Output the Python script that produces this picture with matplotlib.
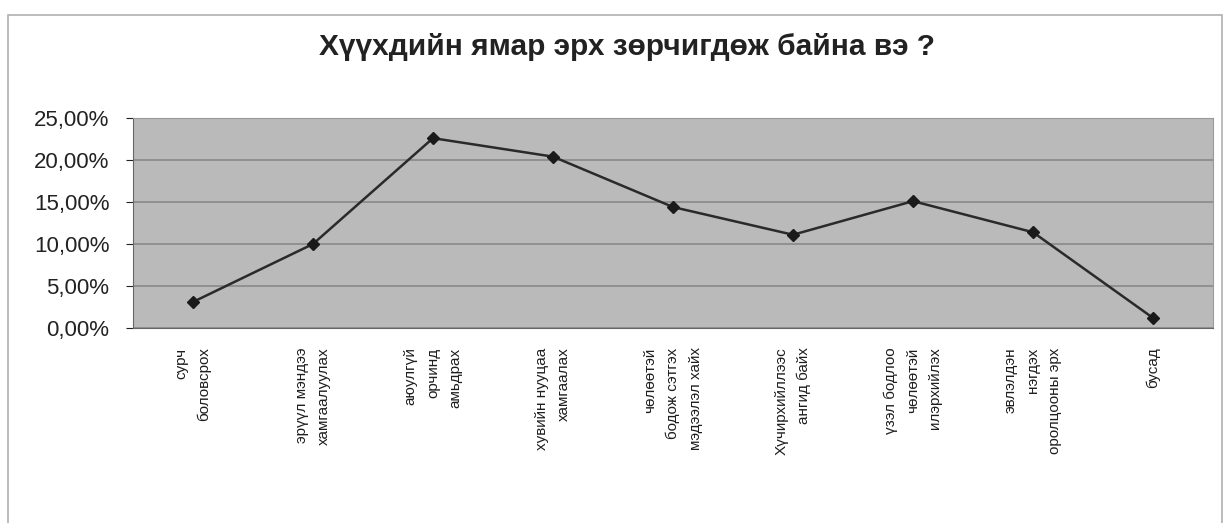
import matplotlib.pyplot as plt
from matplotlib.ticker import FuncFormatter
from matplotlib.patches import Rectangle

plt.rcParams['font.family'] = ['Liberation Sans', 'DejaVu Sans']

title = 'Хүүхдийн ямар эрх зөрчигдөж байна вэ ?'
categories = [
    'сурч\nболовсрох',
    'эрүүл мэндээ\nхамгаалуулах',
    'аюулгүй\nорчинд\nамьдрах',
    'хувийн нууцаа\nхамгаалах',
    'чөлөөтэй\nбодож сэтгэх\nмэдээлэл хайх',
    'Хүчирхийллээс\nангид байх',
    'үзэл бодлоо\nчөлөөтэй\nилэрхийлэх',
    'эвлэлдэн\nнэгдэх\nоролцооны эрх',
    'бусад',
]
values = [0.031, 0.10, 0.226, 0.204, 0.144, 0.111, 0.151, 0.114, 0.012]
yticks = [0, 0.05, 0.10, 0.15, 0.20, 0.25]


def pct(v, pos):
    return ('%.2f%%' % (v * 100)).replace('.', ',')


fig = plt.figure(figsize=(12.31, 5.23), dpi=100)
fig.patches.append(Rectangle((8 / 1231, -0.01), 1214 / 1231, 1 - 15 / 523 + 0.01,
                             transform=fig.transFigure, fill=False,
                             edgecolor='#b0b0b0', linewidth=1.2))

ax = fig.add_axes([133 / 1231, 1 - 328 / 523, 1080 / 1231, 210 / 523])
ax.set_facecolor('#bababa')

x = list(range(len(categories)))
ax.plot(x, values, color='#2a2a2a', linewidth=1.8, marker='D', markersize=6.5,
        markerfacecolor='#1a1a1a', markeredgecolor='#1a1a1a', zorder=3)

ax.set_xlim(-0.5, len(categories) - 0.5)
ax.set_ylim(0, 0.25)
ax.set_yticks(yticks)
ax.yaxis.set_major_formatter(FuncFormatter(pct))
ax.grid(axis='y', color='#858585', linewidth=1.1)
ax.set_axisbelow(True)

ax.set_xticks(x)
ax.set_xticklabels(categories, rotation=90, ha='center', va='top',
                   multialignment='right', fontsize=11, linespacing=1.75,
                   color='#1e1e1e')
ax.tick_params(axis='x', length=0, pad=14)
ax.tick_params(axis='y', length=5, labelsize=16, colors='#222222', pad=12)

for s in ['top', 'right']:
    ax.spines[s].set_color('#9a9a9a')
for s in ['left', 'bottom']:
    ax.spines[s].set_color('#666666')

fig.text(627 / 1231, 1 - 47 / 523, title, ha='center', va='center',
         fontsize=21.5, fontweight='bold', color='#222222')

fig.savefig('out.png', dpi=100)
